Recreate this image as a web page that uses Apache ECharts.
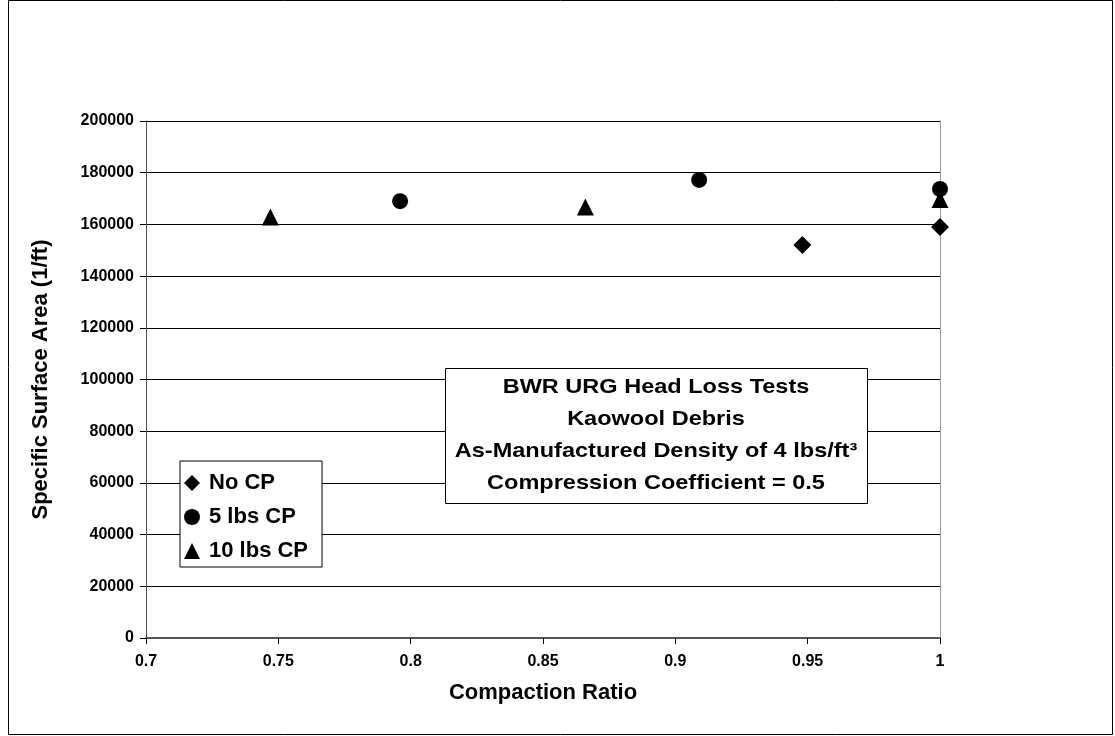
<!DOCTYPE html>
<html><head><meta charset="utf-8">
<script src="https://cdn.jsdelivr.net/npm/echarts@6/dist/echarts.min.js"></script>
<style>html,body{margin:0;padding:0;background:#fff}#c{width:1115px;height:736px}</style>
</head><body><div id="c"></div>
<script>
const xTicks = [0.7, 0.75, 0.8, 0.85, 0.9, 0.95, 1];
const noCP = [[0.948, 152000], [1.0, 159000]];
const cp5 = [[0.796, 169000], [0.909, 177200], [1.0, 173700]];
const cp10 = [[0.747, 162900], [0.866, 166700], [1.0, 169600]];
const seriesNames = ['No CP', '5 lbs CP', '10 lbs CP'];
const noteLines = ['BWR URG Head Loss Tests', 'Kaowool Debris', 'As-Manufactured Density of 4 lbs/ft³', 'Compression Coefficient = 0.5'];

const F = 'Liberation Sans, Arial, sans-serif';
const chart = echarts.init(document.getElementById('c'));
const mk = (name, data, sym, size) => ({
  name, type: 'scatter', data, symbol: sym, symbolSize: size,
  itemStyle: {color: '#000', opacity: 1}, xAxisIndex: 0, yAxisIndex: 0, z: 5
});
chart.setOption({
  animation: false,
  backgroundColor: '#fff',
  grid: {left: 146, right: 175, top: 121, bottom: 98},
  xAxis: {
    type: 'value', min: 0.7, max: 1, interval: 0.05,
    name: 'Compaction Ratio', nameLocation: 'middle', nameGap: 44,
    nameTextStyle: {fontFamily: F, fontWeight: 'bold', fontSize: 22, color: '#000'},
    axisLine: {show: true, onZero: false, lineStyle: {color: '#555', width: 2}},
    axisTick: {show: true, inside: false, length: 6, lineStyle: {color: '#000'}},
    axisLabel: {fontFamily: F, fontWeight: 'bold', fontSize: 16, color: '#000', margin: 16,
      formatter: v => String(+v.toFixed(2))},
    splitLine: {show: false}
  },
  yAxis: [{
    type: 'value', min: 0, max: 200000, interval: 20000,
    name: 'Specific Surface Area (1/ft)', nameLocation: 'middle', nameGap: 94, nameRotate: 90,
    nameTextStyle: {fontFamily: F, fontWeight: 'bold', fontSize: 22, color: '#000'},
    axisLine: {show: true, lineStyle: {color: '#555', width: 1}},
    axisTick: {show: true, inside: false, length: 6, lineStyle: {color: '#000'}},
    axisLabel: {fontFamily: F, fontWeight: 'bold', fontSize: 16, color: '#000', margin: 12,
      formatter: v => String(v)},
    splitLine: {show: true, lineStyle: {color: '#000', width: 1}}
  }, {
    type: 'value', min: 0, max: 200000, position: 'right',
    axisLine: {show: true, lineStyle: {color: '#999', width: 1}},
    axisTick: {show: false}, axisLabel: {show: false}, splitLine: {show: false}
  }],
  legend: {
    orient: 'vertical', left: 180, top: 461,
    data: seriesNames,
    itemWidth: 16, itemHeight: 16, itemGap: 12,
    padding: [11, 14, 5, 4],
    backgroundColor: '#fff', borderColor: '#000', borderWidth: 1,
    textStyle: {fontFamily: F, fontWeight: 'bold', fontSize: 22, color: '#000', padding: [0, 0, 0, 4]},
    selectedMode: false
  },
  series: [mk(seriesNames[0], noCP, 'diamond', 18), mk(seriesNames[1], cp5, 'circle', 16), mk(seriesNames[2], cp10, 'triangle', 17)],
  graphic: [
    {type: 'rect', z: 100, silent: true, shape: {x: 8.5, y: 0.5, width: 1104, height: 734}, style: {fill: 'none', stroke: '#000', lineWidth: 1}},
    {type: 'rect', z: 50, shape: {x: 445.5, y: 368.5, width: 422, height: 135}, style: {fill: '#fff', stroke: '#000', lineWidth: 1}},
    {type: 'text', x: 656, y: 371, z: 51, scaleX: 1.12, originX: 0, originY: 0, style: {
      text: noteLines.join('\n'), fill: '#000', align: 'center', verticalAlign: 'top',
      font: 'bold 21px ' + F, lineHeight: 32}}
  ]
});
</script></body></html>
